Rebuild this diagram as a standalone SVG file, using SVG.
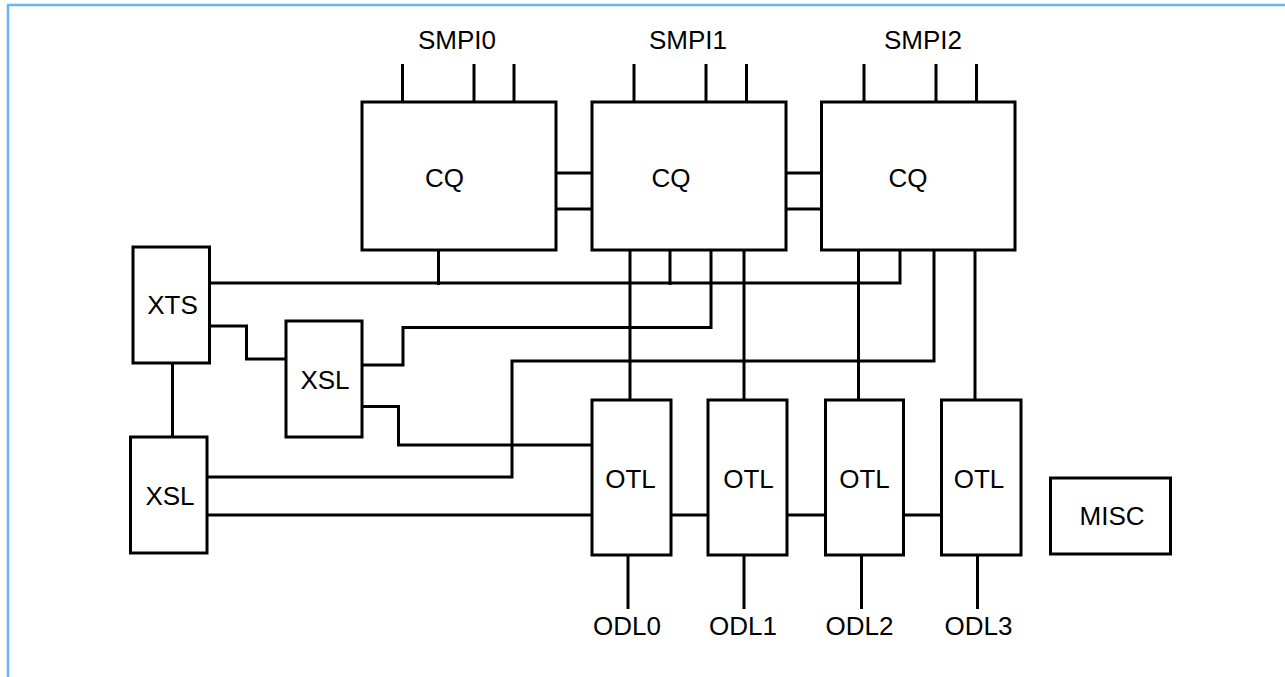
<svg xmlns="http://www.w3.org/2000/svg" width="1285" height="677" viewBox="0 0 1285 677">
<style>
.box{fill:#fff;stroke:#000;stroke-width:3}
.ln{fill:none;stroke:#000;stroke-width:3}
.t{font-family:"Liberation Sans",Arial,sans-serif;font-size:26px;fill:#000;text-anchor:middle}
</style>
<rect x="0" y="0" width="1285" height="677" fill="#fff"/>
<path d="M8,677 V5 H1285" fill="none" stroke="#66b8f4" stroke-width="2.5"/>
<g id="connectors" class="ln">
<path d="M402.5,64 V102 M474,64 V102 M514,64 V102"/>
<path d="M634,64 V102 M706,64 V102 M746.5,64 V102"/>
<path d="M864,64 V102 M936,64 V102 M976.5,64 V102"/>
<path d="M556,173 H592 M556,209 H592"/>
<path d="M786,173 H821.5 M786,209 H821.5"/>
<path d="M438.5,250 V285"/>
<path d="M209.5,283 H900 V250"/>
<path d="M670,250 V285"/>
<path d="M630,250 V400"/>
<path d="M711,250 V327.5 H403 V365 H362"/>
<path d="M744,250 V400"/>
<path d="M858.5,250 V400"/>
<path d="M934,250 V361 H512 V477 H207"/>
<path d="M975,250 V400"/>
<path d="M209.5,326 H246.5 V359 H286"/>
<path d="M172.5,363 V437"/>
<path d="M362,406.5 H398.5 V445 H592"/>
<path d="M207,515 H592"/>
<path d="M671,515 H708 M787,515 H825.5 M903.5,515 H941.5"/>
<path d="M628,555 V609 M744,555 V609 M861.5,555 V609 M977.5,555 V609"/>
</g>
<g id="smpi-labels">
<text class="t" x="457" y="49">SMPI0</text>
<text class="t" x="688" y="49">SMPI1</text>
<text class="t" x="923" y="49">SMPI2</text>
</g>
<g id="cq0"><rect class="box" x="362" y="102" width="194" height="148"/><text class="t" x="444.5" y="187">CQ</text></g>
<g id="cq1"><rect class="box" x="592" y="102" width="194" height="148"/><text class="t" x="671" y="187">CQ</text></g>
<g id="cq2"><rect class="box" x="821.5" y="102" width="193.5" height="148"/><text class="t" x="908" y="187">CQ</text></g>
<g id="xts"><rect class="box" x="133" y="247" width="76.5" height="116"/><text class="t" x="172.5" y="314">XTS</text></g>
<g id="xsl1"><rect class="box" x="286" y="321" width="76" height="116"/><text class="t" x="325" y="389">XSL</text></g>
<g id="xsl2"><rect class="box" x="130.5" y="437" width="76.5" height="116"/><text class="t" x="170" y="505">XSL</text></g>
<g id="otl0"><rect class="box" x="592" y="400" width="79" height="155"/><text class="t" x="630.5" y="488">OTL</text></g>
<g id="otl1"><rect class="box" x="708" y="400" width="79" height="155"/><text class="t" x="748.5" y="488">OTL</text></g>
<g id="otl2"><rect class="box" x="825.5" y="400" width="78" height="155"/><text class="t" x="864.5" y="488">OTL</text></g>
<g id="otl3"><rect class="box" x="941.5" y="400" width="79.5" height="155"/><text class="t" x="979" y="488">OTL</text></g>
<g id="misc"><rect class="box" x="1050.5" y="478" width="120" height="76"/><text class="t" x="1112" y="525">MISC</text></g>
<g id="odl-labels">
<text class="t" x="627" y="635">ODL0</text>
<text class="t" x="743" y="635">ODL1</text>
<text class="t" x="859.5" y="635">ODL2</text>
<text class="t" x="978.5" y="635">ODL3</text>
</g>
</svg>
